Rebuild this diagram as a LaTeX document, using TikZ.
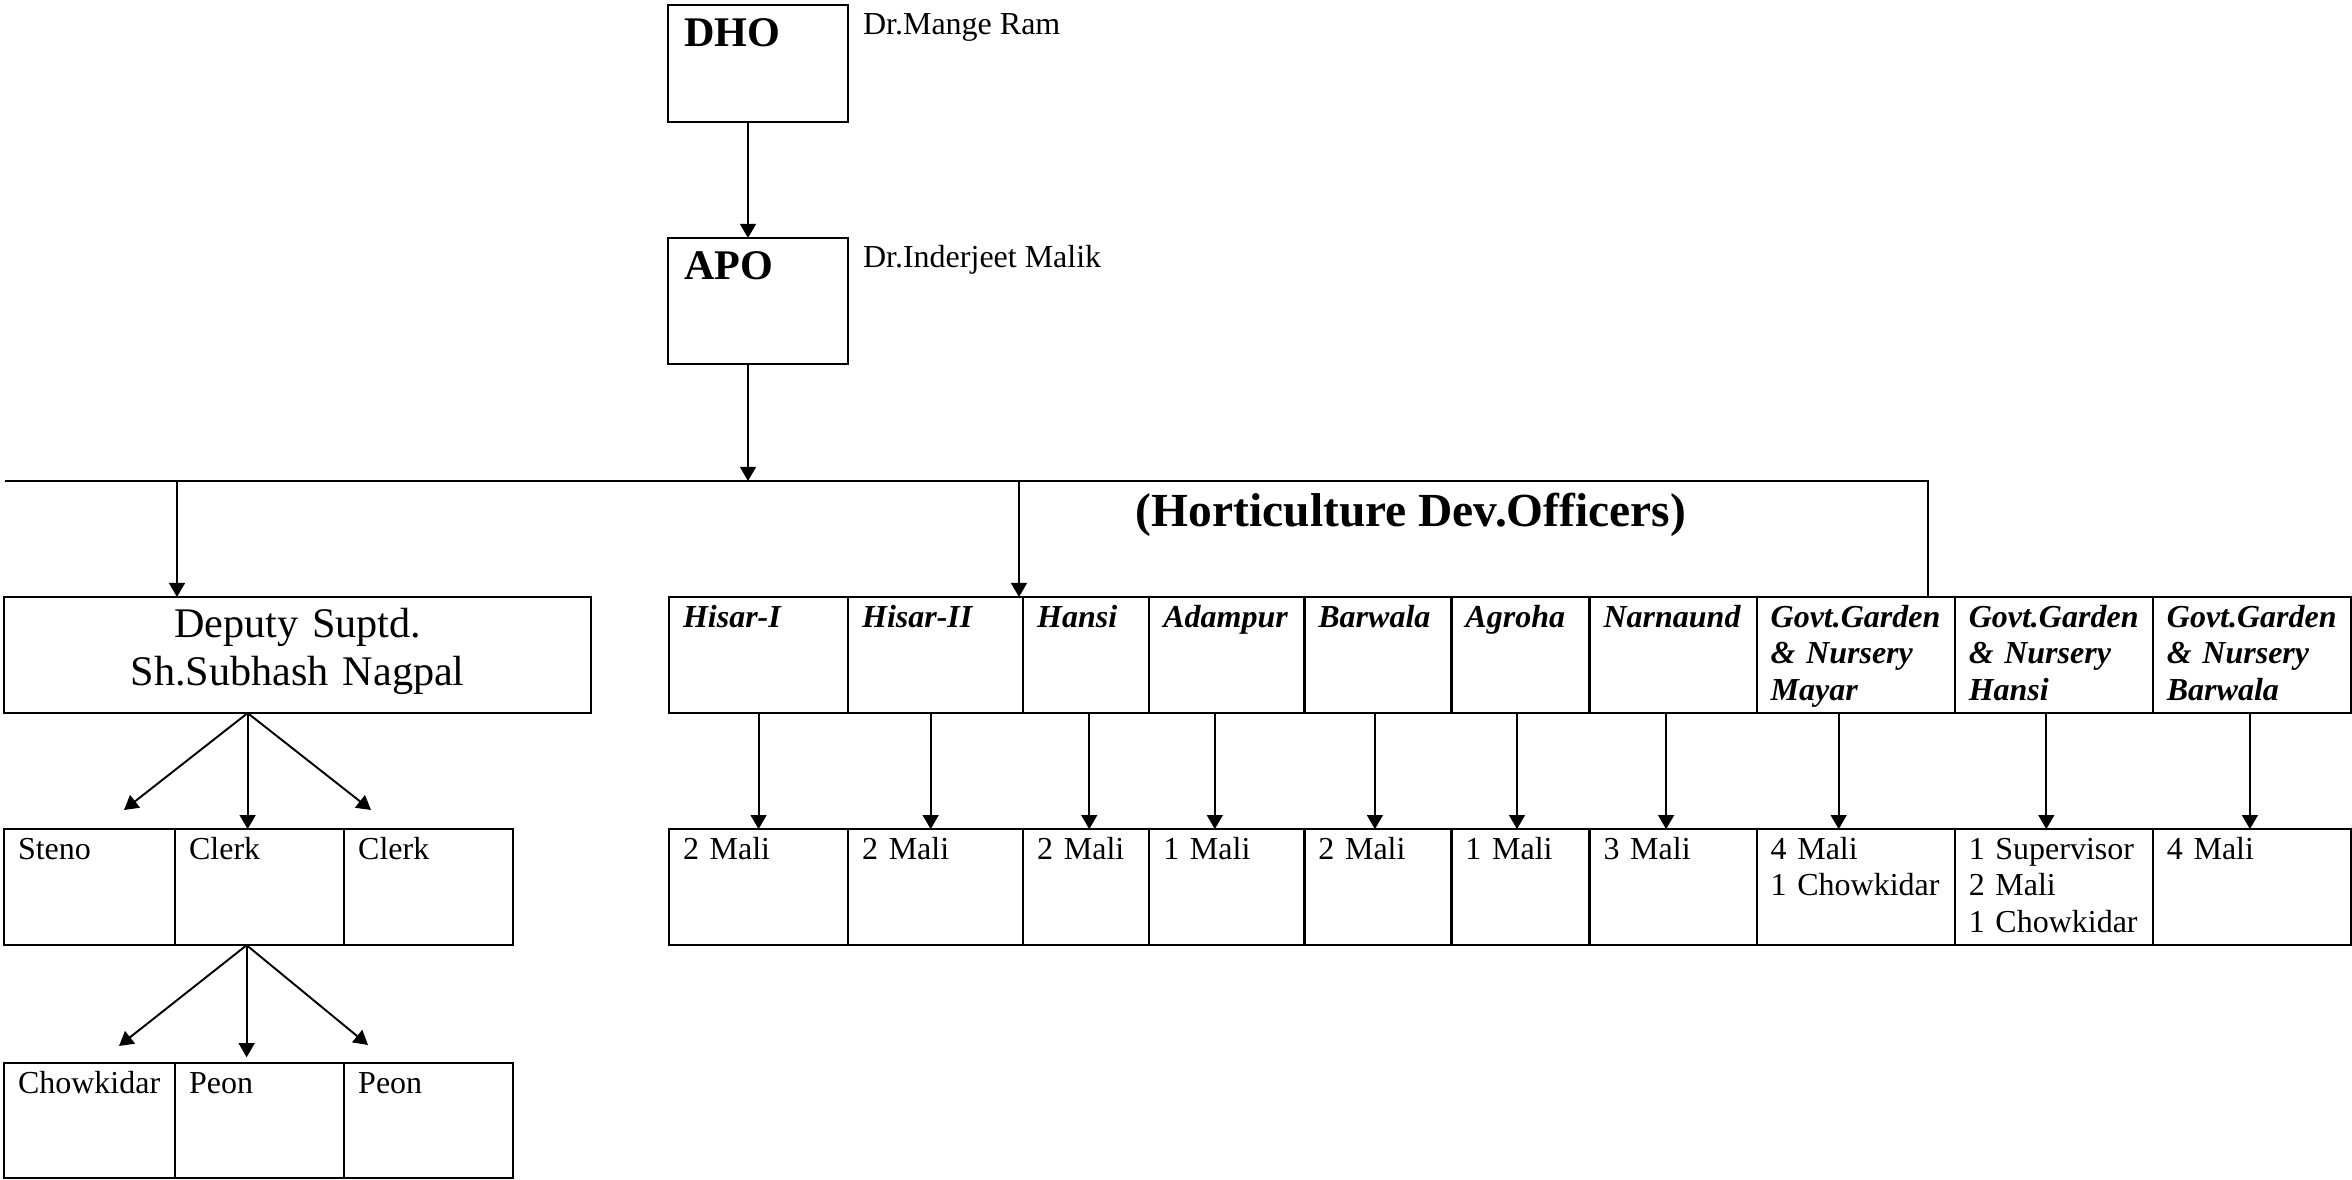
\documentclass[tikz,border=0pt]{standalone}
\usepackage{fontspec}
\setmainfont{Liberation Serif}
\usetikzlibrary{arrows.meta,positioning}
\hyphenpenalty=10000

\begin{document}
\begin{tikzpicture}[x=0.01cm,y=-0.01cm,
    >={Triangle[length=4pt,width=4.5pt]},
    line width=0.55pt,
    box/.style={draw,line width=0.65pt,outer sep=0pt,anchor=north west,
      inner xsep=0.14cm,inner ysep=0pt,align=left,
      text width=#1cm-0.28cm,text height=0.30cm,text depth=0.86cm,
      font=\fontsize{9.1}{10.4}\selectfont},
    box/.default=1.70,
    office/.style={box=#1,font=\fontsize{9.1}{10.4}\selectfont\bfseries\itshape},
    head/.style={box=1.80,inner xsep=0.16cm,text width=1.48cm,text height=0.41cm,
      font=\fontsize{12}{14}\selectfont\bfseries},
    deputy/.style={box=5.87,align=center,text height=0.40cm,text depth=0.76cm,
      font=\fontsize{12}{13.7}\selectfont},
    person/.style={anchor=base west,inner sep=0pt,font=\fontsize{9.1}{10.4}\selectfont}]
  \useasboundingbox (0,0) rectangle (2352,1180);

  % top of the chart
  \node[head,text depth=0.76cm] (dho) at (668,5) {DHO};
  \node[head,text depth=0.85cm] (apo) at (668,238) {APO};
  \node[person] (dho-name) at ([shift={(14,30)}]dho.north east) {Dr.Mange Ram};
  \node[person] (apo-name) at ([shift={(14,30)}]apo.north east) {Dr.Inderjeet Malik};

  \coordinate (bar-w) at (5,481);
  \coordinate (bar-e) at (1928,481);
  \coordinate (bar-apo) at (748,481);
  \coordinate (bar-dep) at (177,481);
  \coordinate (bar-hdo) at (1019,481);

  \node[anchor=base west,inner sep=0pt,font=\fontsize{13.5}{16}\selectfont\bfseries]
    (hdo-title) at (1135,527) {(Horticulture Dev.Officers)};

  % horticulture offices
  \node[office=1.79] (hisar1) at (669,597) {Hisar-I};
  \node[office=1.75,right=0pt of hisar1] (hisar2) {Hisar-II};
  \node[office=1.26,right=0pt of hisar2] (hansi) {Hansi};
  \node[office=1.55,right=0pt of hansi] (adampur) {Adampur};
  \node[office=1.47,right=0pt of adampur] (barwala) {Barwala};
  \node[office=1.38,right=0pt of barwala] (agroha) {Agroha};
  \node[office=1.67,right=0pt of agroha] (narnaund) {Narnaund};
  \node[office=1.98,right=0pt of narnaund] (mayar) {Govt.Garden\\\& Nursery\\Mayar};
  \node[office=1.98,right=0pt of mayar] (ghansi) {Govt.Garden\\\& Nursery\\Hansi};
  \node[office=1.98,right=0pt of ghansi] (gbarwala) {Govt.Garden\\\& Nursery\\Barwala};

  \node[box=1.79,below=1.16cm of hisar1] (s-hisar1) {2 Mali};
  \node[box=1.75,below=1.16cm of hisar2] (s-hisar2) {2 Mali};
  \node[box=1.26,below=1.16cm of hansi] (s-hansi) {2 Mali};
  \node[box=1.55,below=1.16cm of adampur] (s-adampur) {1 Mali};
  \node[box=1.47,below=1.16cm of barwala] (s-barwala) {2 Mali};
  \node[box=1.38,below=1.16cm of agroha] (s-agroha) {1 Mali};
  \node[box=1.67,below=1.16cm of narnaund] (s-narnaund) {3 Mali};
  \node[box=1.98,below=1.16cm of mayar] (s-mayar) {4 Mali\\1 Chowkidar};
  \node[box=1.98,below=1.16cm of ghansi] (s-ghansi) {1 Supervisor\\2 Mali\\1 Chowkidar};
  \node[box=1.98,below=1.16cm of gbarwala] (s-gbarwala) {4 Mali};

  % office staff
  \node[deputy] (deputy) at (4,597) {Deputy Suptd.\\Sh.Subhash Nagpal};
  \node[box=1.71,below=1.16cm of deputy.south west,anchor=north west] (steno) {Steno};
  \node[box=1.69,right=0pt of steno] (clerk1) {Clerk};
  \node[box=1.69,right=0pt of clerk1] (clerk2) {Clerk};
  \node[box=1.71,text depth=0.85cm,below=1.18cm of steno] (chowkidar) {Chowkidar};
  \node[box=1.69,text depth=0.85cm,right=0pt of chowkidar] (peon1) {Peon};
  \node[box=1.69,text depth=0.85cm,right=0pt of peon1] (peon2) {Peon};

  \coordinate (dep-fork) at ([xshift=-0.5cm]deputy.south);
  \coordinate (steno-tip) at (124,810);
  \coordinate (clerk2-tip) at (371,810);
  \coordinate (clerk-fork) at ([xshift=-0.13cm]clerk1.south);
  \coordinate (chowkidar-tip) at (119,1046);
  \coordinate (peon2-tip) at (368,1045);

  % connectors
  \draw[->] (dho.south -| bar-apo) -- (apo.north -| bar-apo);
  \draw[->] (apo.south -| bar-apo) -- (bar-apo);
  \draw (bar-w) -- (bar-e) -- (bar-e |- mayar.north);
  \draw[->] (bar-dep) -- (bar-dep |- deputy.north);
  \draw[->] (bar-hdo) -- (bar-hdo |- hisar2.north);
  \foreach \a/\s in {hisar1/0,hisar2/-0.05,hansi/0.03,adampur/-0.12,barwala/-0.03,
      agroha/-0.035,narnaund/-0.07,mayar/-0.17,ghansi/-0.075,gbarwala/-0.02}
    \draw[->] ([xshift=\s cm]\a.south) -- ([xshift=\s cm]s-\a.north);
  \path[->]
    (dep-fork) edge (dep-fork |- clerk1.north)
    (dep-fork) edge (steno-tip)
    (dep-fork) edge (clerk2-tip)
    (clerk-fork) edge ([yshift=0.06cm]clerk-fork |- peon1.north)
    (clerk-fork) edge (chowkidar-tip)
    (clerk-fork) edge (peon2-tip);
\end{tikzpicture}
\end{document}
